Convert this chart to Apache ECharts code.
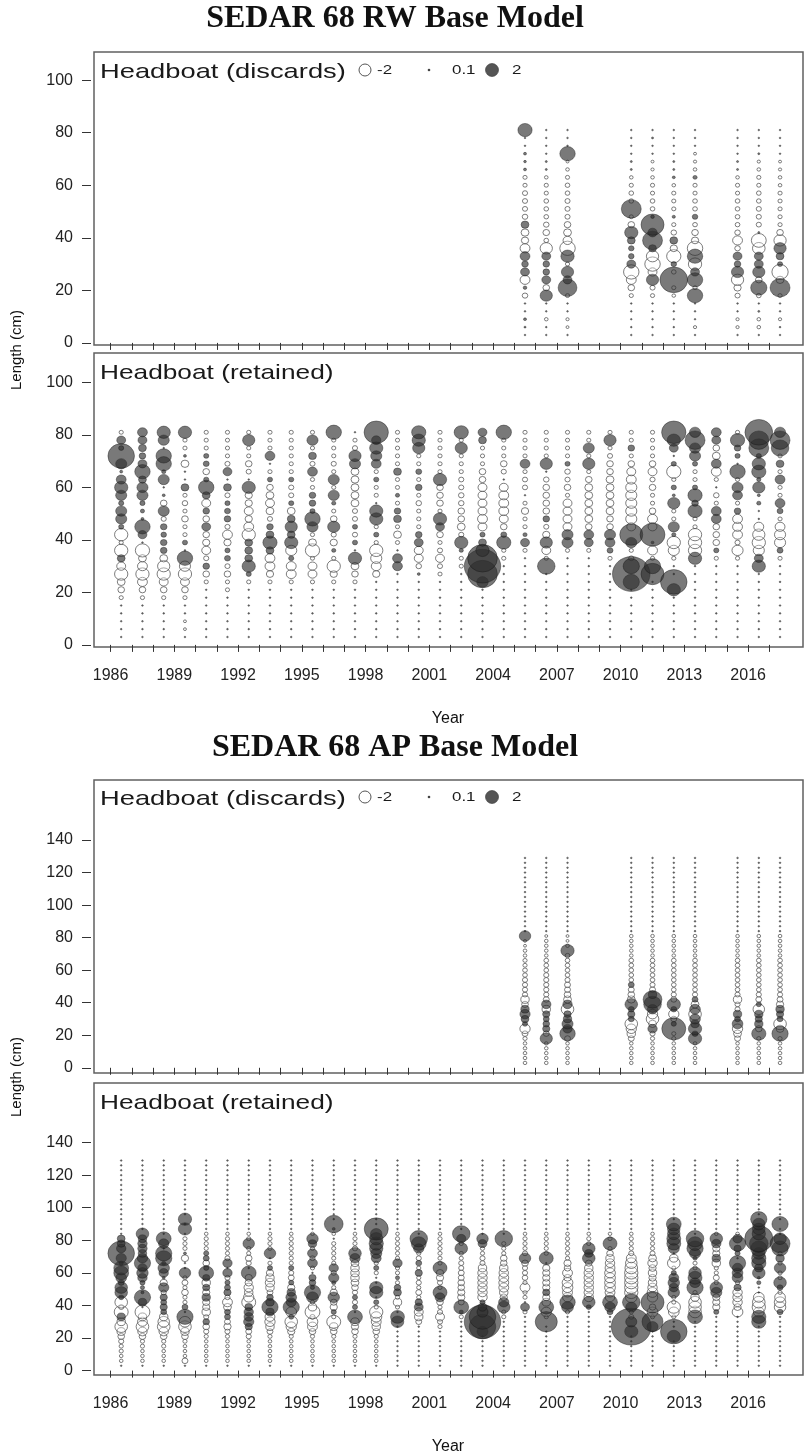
<!DOCTYPE html>
<html>
<head>
<meta charset="utf-8">
<script src="https://cdn.jsdelivr.net/npm/echarts@6/dist/echarts.min.js"></script>
<style>
html, body { margin: 0; background: #fff; }
#chart { width: 805px; height: 1456px; }
</style>
</head>
<body>
<div id="chart"></div>
<script>
// length bins (cm)
const RW_BINS = [3,6,9,12,15,18,21,24,27,30,33,36,39,42,45,48,51,54,57,60,63,66,69,72,75,78,81];
const AP_BINS = [3,6,9,12,15,18,21,24,27,30,33,36,39,42,45,48,51,54,57,60,63,66,69,72,75,78,81,
  84,87,90,93,96,99,102,105,108,111,114,117,120,123,126,129];
const YEARS = [1986,1987,1988,1989,1990,1991,1992,1993,1994,1995,1996,1997,1998,1999,2000,2001,
  2002,2003,2004,2005,2006,2007,2008,2009,2010,2011,2012,2013,2014,2015,2016,2017];
const DISCARD_YEARS = [2005,2006,2007,2010,2011,2012,2013,2015,2016,2017];
const X_LABELS = [1986,1989,1992,1995,1998,2001,2004,2007,2010,2013,2016];
const RW_Y_TICKS = [0,20,40,60,80,100];
const AP_Y_TICKS = [0,20,40,60,80,100,120,140];

// residuals, one row per year, bins from smallest to largest
const rwDiscards = [
  [0,0.05,0.1,0,0,-0.35,0.15,-1.1,0.9,0.5,1.1,-1.1,-0.6,-0.7,0.7,-0.35,-0.3,-0.3,-0.3,-0.2,-0.2,0.1,0.08,0.1,0,0,2.3],
  [0,0,-0.15,0,0,1.7,-0.5,0.9,0.5,0.5,0.9,-1.7,-0.25,-0.5,-0.35,-0.25,-0.25,-0.25,-0.2,-0.2,-0.15,0.05,0.05,0,0,0,0],
  [0,-0.1,-0.12,0,0,-0.2,4,0.9,1.7,-0.2,2,-2.7,-0.9,-0.7,-0.5,-0.3,-0.3,-0.3,-0.25,-0.25,-0.2,-0.15,-0.1,2.7,0,0,0],
  [0,0,0,0,0,-0.2,-0.5,-1.1,-2.7,0.9,0.35,0.35,0.7,2,-0.5,-0.2,4.5,-0.25,-0.25,-0.2,-0.15,0.05,0.05,0,0,0,0],
  [0,0,0,0,0,-0.2,-0.3,1.7,-0.9,-2.7,-1.7,0.7,4.5,1,6,0.15,-0.25,-0.25,-0.2,-0.2,-0.15,-0.12,-0.1,0,0,0.05,0],
  [0,0,0,0,0,-0.15,-0.2,8.7,-0.25,0.35,-2.3,-0.6,0.7,-0.35,-0.2,0.12,-0.2,-0.2,-0.2,-0.15,0.1,0.05,0.05,0,0,0,0],
  [0,-0.12,0,0,0,2.7,-0.2,2.7,0.9,-2,2.7,-2.7,-0.6,-0.5,-0.25,0.35,-0.25,-0.25,-0.2,-0.2,0.2,-0.15,-0.12,-0.1,0,0,0],
  [0,-0.12,-0.12,0,0,-0.3,-0.6,-1.7,1.7,0.5,0.9,-0.35,-1.1,-0.35,-0.25,-0.25,-0.25,-0.25,-0.2,-0.2,-0.15,0.05,0.05,0,0,0,0],
  [0,-0.15,-0.15,0.05,0,-0.25,3,-0.5,1.7,0.9,0.9,-1.8,-2.5,0.05,-0.3,-0.3,-0.3,-0.25,-0.25,-0.2,-0.2,-0.15,-0.12,0.05,0,0,0],
  [0,0,-0.12,0,0,-0.2,4.5,-0.7,-3,0.3,0.7,1.7,-1.7,-0.5,-0.2,-0.2,-0.2,-0.2,-0.2,-0.15,-0.15,-0.12,-0.1,0,0,0,0]
];

const rwRetained = [
  [0,0,0,0,0,-0.2,-0.5,-0.7,-2,-0.9,0.7,-2,-0.2,-2,0.3,1.4,1.4,0.3,1.4,2,1.1,0.1,1.4,8,0.3,0.9,-0.2],
  [0,0,0,0,0,-0.2,-0.5,-1.1,-2,-1.1,-0.7,-2.3,0,0.9,2.7,0.1,0.2,0.3,1.4,1.4,0.7,2.7,0.9,0.5,0.7,0.9,1.1],
  [0,0,0,0,0,-0.2,-0.5,-0.9,-2,-1.7,-0.7,0.5,0.5,0.35,0.5,-0.3,1.4,-0.5,0.1,0,1.4,0.2,2.7,2.7,0,1.4,2],
  [0,-0.1,-0.1,0,0,-0.2,-0.5,-0.9,-2,-1.4,2.7,0,0.3,-0.2,-0.2,-0.5,-0.2,-0.35,-0.2,0.7,0,0,-0.7,0.1,-0.2,-0.2,2],
  [0,0,0,0,0,0,0,-0.2,-0.5,0.5,-0.3,-0.9,-0.6,-0.5,0.9,-0.5,0.5,-0.9,0.7,2.7,0.3,-0.5,0.4,0.3,-0.2,-0.2,-0.2],
  [0,0,0,0,0,0,-0.2,-0.2,-0.5,-0.3,0.4,0.3,-0.6,-1.1,-0.3,0.5,0.4,0.3,-0.3,0.7,0,0.9,-0.3,-0.2,-0.2,-0.2,-0.2],
  [0,0,0,0,0,0,0,-0.2,0.3,2,0.7,0.7,0.7,-2,-1.1,-0.6,-0.9,-0.6,-0.6,2,0,-0.3,-0.5,-0.2,-0.2,1.7,-0.2],
  [0,0,0,0,0,0,0,-0.2,-0.6,-1.1,-1.1,0.7,2.3,0.7,0.5,-0.3,-0.7,-0.9,-0.7,-0.5,0.3,-0.2,0,1.1,-0.2,-0.2,-0.2],
  [0,0,0,0,0,0,0,-0.2,-1.1,-1.1,0.3,-1.4,2,0.7,1.7,0.7,-0.7,0.3,-0.3,-0.3,0.3,-0.2,-0.2,-0.2,-0.2,-0.2,-0.2],
  [0,0,0,0,0,0,0,-0.2,-0.9,-0.9,-0.2,-2.3,-0.7,-0.2,1.4,2.7,0.3,0.5,0.5,-0.2,-0.2,1.1,-0.3,0.7,-0.2,1.4,-0.2],
  [0,0,0,0,0,0,0,-0.2,-0.6,-2,-0.2,0.2,-0.6,-0.3,1.7,-0.5,-0.2,0.2,1.4,-0.2,1.4,-0.2,-0.3,-0.2,-0.2,-0.2,2.7],
  [0,0,0,0,0,0,0,-0.2,-0.5,-0.7,2,0,0.3,-0.3,0.3,-0.3,-0.3,-0.7,-0.7,-0.7,-0.7,-0.7,1.4,1.7,-0.3,-0.2,0],
  [0,0,0,0,0,0,0,0,-0.6,-1.1,-1.4,-2,-0.2,0.3,-0.2,2,2,0,-0.2,-0.2,0.3,-0.2,1.1,1.4,2,1,6.7],
  [0,0,0,0,0,0,0,0,0,1.1,1.1,0,-0.2,-0.7,-0.2,0.7,0.5,-0.2,0.2,-0.2,-0.2,0.7,-0.2,-0.2,-0.2,-0.2,-0.2],
  [0,0,0,0,0,0,0,0,0.1,-0.35,-0.9,-0.9,0.9,0.5,-0.2,-0.2,-0.2,-0.35,-0.2,0.5,-0.2,0.4,-0.2,-0.2,1.7,2,2.3],
  [0,0,0,0,0,0,0,0,-0.2,-0.3,-0.9,-0.3,-0.2,-0.5,0.9,2,-0.2,-0.5,-0.5,-0.5,2,-0.2,-0.2,-0.2,-0.2,-0.2,-0.2],
  [0,0,0,0,0,0,0,0,0,-0.2,-0.2,0.2,2,-0.3,-0.7,-0.5,-0.5,-0.35,-0.35,-0.3,-0.3,-0.2,-0.2,-0.2,1.7,-0.2,2.3],
  [0,0,0,0,0,0,0,1.5,10,15,10,2,0.7,0.3,-0.9,-1.1,-0.9,-0.9,-0.9,-0.9,-0.5,-0.5,-0.2,-0.2,-0.2,0.7,0.9],
  [0,0,0,0,0,0,0,0,0,0,-0.2,-0.2,2.3,0.4,-0.5,-0.9,-1.1,-1.1,-1.1,-0.9,0,-0.3,-0.5,-0.2,-0.2,-0.2,2.7],
  [0,0,0,0,0,0,0,0,0,0,0,-0.2,0.9,0.2,-0.2,-0.2,-0.6,-0.2,0,-0.3,-0.3,-0.2,1.1,-0.2,-0.2,-0.2,-0.2],
  [0,0,0,0,0,0,0,0,0,3.5,-0.2,-0.9,1.7,-0.6,-0.3,0.5,-0.5,-0.5,-0.5,-0.5,-0.35,0,1.7,-0.2,-0.2,-0.2,-0.2],
  [0,0,0,0,0,0,0,0,0,0,0,-0.2,1.4,1.4,-0.9,-0.9,-0.9,-0.9,-0.2,-0.5,-0.3,-0.35,0.3,-0.2,-0.2,-0.2,-0.2],
  [0,0,0,0,0,0,0,0,0,0,0,-0.2,0.9,1.1,-0.5,-0.7,-0.7,-0.7,-0.7,-0.7,-0.5,-0.2,1.7,-0.2,1.4,-0.2,-0.2],
  [0,0,0,0,0,0,0,0,0,0,-0.2,0.4,1.1,1.4,-0.5,-0.5,-0.7,-0.7,-0.7,-0.7,-0.7,-0.5,-0.5,-0.3,-0.2,1.7,-0.2],
  [0,0,0,0,0,0,0,3,16,3,-0.3,-0.2,1.4,6,-0.9,-1.4,-1.4,-1.4,-1.4,-1.4,-1.1,-0.9,-0.5,-0.2,0.5,-0.2,-0.2],
  [0,0,0,0,0,0,0,0,6,3,-0.2,-1.1,0.1,7,-0.9,-1.1,-0.5,-0.2,-0.2,-0.5,-0.3,-0.9,-0.5,-0.2,-0.2,-0.2,-0.2],
  [0,0,0,0,0,0,2,8,0,0,-0.2,-1.4,-2,0.2,1.4,-0.2,-0.2,1.7,0.1,0.3,-0.2,-2.3,0.3,0,0.9,2,6.7],
  [0,0,0,0,0,0,0,0,0,0,2,-2,-2,-2,-0.2,-0.2,2.3,0.5,2.3,0.3,-0.2,-0.2,0.3,1.4,1.4,4.5,1.4],
  [0,0,0,0,0,0,0,0,0,0,-0.2,0.3,-0.5,-0.5,-0.5,1.1,1.1,-0.2,-0.35,0,-0.2,-1.1,1.1,-0.7,-0.5,0.9,1.1],
  [0,0,0,0,0,0,0,0,0,0,-0.2,-1.4,-0.3,-1.1,-1.1,-1.1,0.5,-0.2,1.1,1.4,-0.2,2.7,0,0.3,0.5,2.3,-0.2],
  [0,0,0,0,0,0,0,0,0,2,0.9,-1.4,-2,-1.7,-1.1,0,0,0.2,0.1,1.7,0.2,2.3,2,0.3,4.5,4.5,8.7],
  [0,0,0,0,0,0,0,0,0,0,-0.2,0.4,-1.4,-1.4,-1.1,-0.2,0.4,1.1,-0.2,-0.2,1.1,-0.2,0.7,-0.2,3.5,4.5,1.4]
];

const apDiscards = [
  [-0.15,-0.15,-0.15,-0.15,-0.15,-0.2,-0.4,-1.2,0.3,0.7,1.2,0.8,-0.5,-0.8,-0.3,-0.3,-0.3,-0.3,-0.25,-0.25,-0.2,-0.2,-0.15,-0.15,-0.1,-0.1,1.5,0,0,0,0,0,0,0,0,0,0,0,0,0,0,0,0],
  [-0.15,-0.15,-0.15,-0.15,-0.15,1.7,-0.4,0.6,0.5,0.4,0.6,-0.8,1,-0.4,-0.3,-0.3,-0.3,-0.3,-0.3,-0.25,-0.25,-0.25,-0.15,-0.15,-0.15,-0.15,-0.1,0,0,0,0,0,0,0,0,0,0,0,0,0,0,0,0],
  [-0.15,-0.15,-0.15,-0.15,-0.15,-0.4,2.7,1,1.4,0.8,0.6,-1.8,1,-0.7,-0.5,-0.4,-0.4,-0.3,-0.25,-0.25,-0.25,-0.25,-0.25,2,-0.15,-0.1,-0.1,0,0,0,0,0,0,0,0,0,0,0,0,0,0,0,0],
  [-0.15,-0.15,-0.15,-0.15,-0.15,-0.4,-0.8,-1.2,-1.8,0.4,0.6,0.4,1.8,-0.7,-0.5,-0.4,0.4,-0.25,-0.25,-0.25,-0.25,-0.25,-0.15,-0.15,-0.15,-0.15,-0.15,0,0,0,0,0,0,0,0,0,0,0,0,0,0,0,0],
  [-0.15,-0.15,-0.15,-0.15,-0.15,-0.2,-0.3,1,-0.7,-1.8,-1.2,1.2,3.5,4,0.8,-0.4,-0.3,-0.25,-0.25,-0.25,-0.25,-0.25,-0.15,-0.15,-0.15,-0.15,-0.15,0,0,0,0,0,0,0,0,0,0,0,0,0,0,0,0],
  [-0.15,-0.15,-0.15,-0.15,-0.15,-0.2,-0.2,6.5,0.3,-0.4,-1.2,0.4,2,-0.4,-0.3,-0.25,-0.25,-0.25,-0.25,-0.25,-0.25,-0.25,-0.15,-0.15,-0.15,-0.15,-0.15,0,0,0,0,0,0,0,0,0,0,0,0,0,0,0,0],
  [-0.15,-0.15,-0.15,-0.15,-0.15,2,0.4,2,0.8,1.3,-1.8,1.3,-0.7,0.4,-0.3,-0.25,-0.25,-0.25,-0.25,-0.25,-0.25,-0.25,-0.15,-0.15,-0.15,-0.15,-0.15,0,0,0,0,0,0,0,0,0,0,0,0,0,0,0,0],
  [-0.15,-0.15,-0.15,-0.15,-0.15,-0.4,-0.7,-1.2,1.3,0.4,0.8,-0.3,-0.3,-0.8,-0.3,-0.25,-0.25,-0.25,-0.25,-0.25,-0.25,-0.25,-0.15,-0.15,-0.15,-0.15,-0.15,0,0,0,0,0,0,0,0,0,0,0,0,0,0,0,0],
  [-0.15,-0.15,-0.15,-0.15,-0.15,-0.2,2.3,-0.5,0.8,0.6,0.8,-1.5,0.3,-0.4,-0.3,-0.25,-0.25,-0.25,-0.25,-0.25,-0.25,-0.25,-0.15,-0.15,-0.15,-0.15,-0.15,0,0,0,0,0,0,0,0,0,0,0,0,0,0,0,0],
  [-0.15,-0.15,-0.15,-0.15,-0.15,-0.2,3,-0.7,-1.8,0.4,0.6,0.8,-0.6,-0.4,-0.3,-0.25,-0.25,-0.25,-0.25,-0.25,-0.25,-0.25,-0.15,-0.15,-0.15,-0.15,-0.15,0,0,0,0,0,0,0,0,0,0,0,0,0,0,0,0]
];

const apRetained = [
  [0,-0.15,-0.15,-0.2,-0.2,-0.3,-0.5,-0.8,-1.8,-0.8,0.8,-2.2,-0.3,-1.8,0.3,1.8,1.8,0.4,1.3,2.5,2.5,0.2,1.2,8,1,0.7,0.7,0,0,0,0,0,0,0,0,0,0,0,0,0,0,0,0],
  [0,-0.15,-0.15,-0.15,-0.2,-0.2,-0.5,-1,-1.8,-1.1,-0.8,-2.5,0,0.8,3,0.1,0.2,0.3,1,1.5,1,3,1.2,0.8,1,1,0.8,1.8,0,0,0,0,0,0,0,0,0,0,0,0,0,0,0],
  [0,-0.15,-0.15,-0.15,-0.2,-0.2,-0.5,-1,-1.8,-1.5,-0.8,0.4,0.6,0.4,0.6,-0.3,1.2,-0.6,0.1,1,1.5,0.2,3,3,0,1.2,2.5,0,0,0,0,0,0,0,0,0,0,0,0,0,0,0,0],
  [0,-0.4,-0.15,-0.15,-0.15,-0.2,-0.5,-0.8,-1.8,-1.5,3,0,0.4,-0.2,-0.2,-0.5,-0.2,-0.4,-0.2,1.5,0,0,-0.6,0.1,-0.2,-0.2,-0.2,0,2,0,2,0,0,0,0,0,0,0,0,0,0,0,0],
  [0,-0.15,-0.15,-0.15,-0.15,-0.15,-0.2,-0.3,-0.5,0.5,-0.3,-0.8,-0.6,-0.6,0.8,-0.6,0.6,-0.8,0.6,2.5,0.3,-0.5,0.4,0.3,-0.2,-0.2,-0.2,-0.15,0,0,0,0,0,0,0,0,0,0,0,0,0,0,0],
  [0,-0.15,-0.15,-0.15,-0.15,-0.15,-0.2,-0.3,-0.6,-0.4,0.4,0.4,-0.7,-1.1,-0.3,0.6,0.4,0.3,-0.3,1,0,1,-0.3,-0.2,-0.2,-0.2,-0.2,-0.15,0,0,0,0,0,0,0,0,0,0,0,0,0,0,0],
  [0,-0.15,-0.15,-0.15,-0.15,-0.15,-0.3,-0.4,0.6,1.2,1,1,0.7,-2.2,-1.2,-0.8,-1,-0.6,-0.6,2.5,0,-0.3,-0.5,-0.2,-0.2,1.5,-0.2,-0.15,0,0,0,0,0,0,0,0,0,0,0,0,0,0,0],
  [0,-0.15,-0.15,-0.15,-0.15,-0.15,-0.2,-0.4,-0.8,-1.2,-1.1,0.8,3,0.8,0.5,-0.4,-0.8,-1,-0.8,-0.6,0.3,-0.2,0,1.5,-0.2,-0.2,-0.2,-0.15,0,0,0,0,0,0,0,0,0,0,0,0,0,0,0],
  [0,-0.15,-0.15,-0.15,-0.15,-0.15,-0.2,-0.6,-1.2,-1.8,0.3,-1.3,3,1.1,1.3,0.8,-0.6,0.3,-0.4,-0.3,0.3,-0.2,-0.2,-0.2,-0.2,-0.2,-0.2,-0.15,0,0,0,0,0,0,0,0,0,0,0,0,0,0,0],
  [0,-0.15,-0.15,-0.15,-0.15,-0.15,-0.2,-0.5,-1.1,-1.3,-0.3,-2.5,-0.8,-0.2,1.6,3,0.2,0.5,0.6,0,-0.2,1.1,-0.3,1.1,-0.2,0.8,1.5,-0.15,0,0,0,0,0,0,0,0,0,0,0,0,0,0,0],
  [0,-0.15,-0.15,-0.15,-0.15,-0.15,-0.2,-0.5,-0.8,-2.2,-0.2,0.3,-0.6,-0.5,1.5,-0.6,-0.2,0.2,1.2,-0.3,1,-0.2,-0.2,-0.2,-0.2,-0.2,0,-0.15,0.1,4,0,0,0,0,0,0,0,0,0,0,0,0,0],
  [0,-0.15,-0.15,-0.15,-0.15,-0.15,-0.2,-0.5,-0.6,-0.8,2.5,0,0.3,-0.3,0.3,-0.3,-0.5,-0.7,-0.8,-0.8,-0.8,-0.7,1.2,1.8,-0.3,-0.2,-0.2,-0.15,0,0,0,0,0,0,0,0,0,0,0,0,0,0,0],
  [0,-0.15,-0.15,-0.15,-0.15,-0.15,-0.2,-0.5,-0.8,-1.1,-1.4,-2,-0.2,0.3,0,2,2,0,0,-0.2,0.3,-0.2,1.1,1.4,2,2.3,2,1.5,6.5,0,0,0,0,0,0,0,0,0,0,0,0,0,0],
  [0,0,0,0,0,0,0,0,0,1.8,2.2,0,-0.2,-0.8,-0.2,0.7,0.5,-0.2,0.2,-0.2,-0.2,1,-0.2,-0.2,-0.2,-0.2,-0.2,-0.15,0,0,0,0,0,0,0,0,0,0,0,0,0,0,0],
  [0,0,0,0,0,0,0,0,0,-0.4,-0.8,-0.9,0.9,0.6,-0.2,-0.4,-0.2,-0.3,-0.2,0.6,-0.2,0.4,-0.3,-0.2,1.2,2.5,3.5,0,0,0,0,0,0,0,0,0,0,0,0,0,0,0,0],
  [0,0,0,0,0,0,0,0,-0.2,-0.3,-0.9,-0.3,-0.2,-0.5,1.1,2.2,-0.2,-0.3,-0.6,-0.6,2.2,-0.2,-0.2,-0.2,-0.2,-0.2,-0.2,-0.15,0,0,0,0,0,0,0,0,0,0,0,0,0,0,0],
  [0,0,0,0,0,0,0,0,0,0,-0.2,0.2,2.5,-0.4,-0.6,-0.6,-0.5,-0.5,-0.4,-0.4,-0.3,-0.3,-0.2,-0.2,1.8,-0.2,1,3.5,0,0,0,0,0,0,0,0,0,0,0,0,0,0,0],
  [0,0,0,0,0,0,0,1.4,8,15,8,1.4,0.9,0.3,-1,-1,-1,-1,-1,-1,-0.8,-0.3,-0.3,-0.2,-0.2,0.9,1.5,0,0,0,0,0,0,0,0,0,0,0,0,0,0,0,0],
  [0,0,0,0,0,0,0,0,0,0,-0.2,-0.2,1.8,1.2,-0.6,-0.8,-1.1,-1.1,-1.1,-1,-0.8,-0.5,-0.5,-0.2,-0.2,-0.2,3.5,0,0,0,0,0,0,0,0,0,0,0,0,0,0,0,0],
  [0,0,0,0,0,0,0,0,0,0,0,-0.2,0.9,0,-0.2,-0.2,-1.1,-0.2,-0.35,-0.3,-0.3,-0.5,1.5,-0.3,-0.2,-0.2,-0.2,-0.15,0,0,0,0,0,0,0,0,0,0,0,0,0,0,0],
  [0,0,0,0,0,0,0,0,0,5.5,-0.2,-1.2,2.5,-0.8,-0.6,0.6,-0.6,-0.6,-0.6,-0.6,-0.6,0,2.2,-0.2,-0.2,-0.2,-0.2,-0.15,0,0,0,0,0,0,0,0,0,0,0,0,0,0,0],
  [0,0,0,0,0,0,0,0,0,0,0,-0.2,1.6,2.7,-1.1,-1.1,-1.3,-1.3,-0.6,-1.1,-0.5,-0.6,-0.2,-0.2,-0.2,-0.2,-0.2,-0.15,0,0,0,0,0,0,0,0,0,0,0,0,0,0,0],
  [0,0,0,0,0,0,0,0,0,0,0,0,0.3,1.8,-1,-1,-1,-1,-1,-1,-0.8,-0.5,1.8,0.8,1.8,-0.2,-0.2,-0.15,0,0,0,0,0,0,0,0,0,0,0,0,0,0,0],
  [0,0,0,0,0,0,0,0,0,0,0,0.4,1.3,2.5,-1,-1.1,-1.3,-1.3,-1.3,-1.3,-1.1,-1,-0.8,-0.5,-0.2,2.2,-0.2,-0.15,0,0,0,0,0,0,0,0,0,0,0,0,0,0,0],
  [0,0,0,0,0,0,0,2,18,1.4,-0.3,-0.2,1.4,3.5,-1.5,-2,-2,-2,-2,-2,-1.8,-1.5,-1.1,-0.3,-0.2,-0.2,-0.2,-0.15,0,0,0,0,0,0,0,0,0,0,0,0,0,0,0],
  [0,0,0,0,0,0,0,0,1.4,5,-0.2,-1.3,-0.5,6,-1.2,-1.3,-1,-0.8,-0.6,-0.8,-0.6,-1,-0.7,-0.3,-0.2,-0.2,-0.2,-0.15,0,0,0,0,0,0,0,0,0,0,0,0,0,0,0],
  [0,0,0,0,0,0,2,8,0,0,-0.2,-1.3,-2,-0.2,-0.2,1.5,1,1.5,1.1,0.3,-0.2,-1.8,-0.8,0,1.4,2.2,2.2,1.8,1.8,2.5,0,0,0,0,0,0,0,0,0,0,0,0,0],
  [0,0,0,0,0,0,0,0,0,0,2.5,-1.8,-1.8,-1.8,-0.8,-0.2,3,1.3,2.2,1.8,-0.2,-0.2,0.2,1.4,3,2.5,3.5,0,0,0,0,0,0,0,0,0,0,0,0,0,0,0,0],
  [0,0,0,0,0,0,0,0,0,0,0,0.3,-0.6,-0.6,-0.6,1.4,1.8,-0.2,-0.4,-0.2,-0.2,-0.8,0.8,-0.6,-0.6,1,1.8,-0.15,0,0,0,0,0,0,0,0,0,0,0,0,0,0,0],
  [0,0,0,0,0,0,0,0,0,0,0,-1.3,-0.6,-1,-1,-1,0.6,-0.2,1.3,1.3,1.2,3,0,0.3,0.6,3,1,-0.15,0,0,0,0,0,0,0,0,0,0,0,0,0,0,0],
  [0,0,0,0,0,0,0,0,0,2.3,2.3,-1.3,-2,-1.8,-1.3,0,0,0.2,0.1,1.8,0.8,2.3,2.3,1.8,3,4,9,2,1.8,1.8,3,0,0,0,0,0,0,0,0,0,0,0,0],
  [0,0,0,0,0,0,0,0,0,0,0,0.4,-1.5,-1.5,-1.3,-0.2,0.4,1.8,-0.2,-0.2,1.5,-0.2,0.8,-0.2,3,4.5,1.8,0,0,3,0,0,0,0,0,0,0,0,0,0,0,0,0]
];

const FONT = '"Liberation Sans", Arial, sans-serif';
const SERIF = '"Liberation Serif", "Times New Roman", serif';
const X_MIN = 1985.22;
const X_MAX = 2018.58;

const chart = echarts.init(document.getElementById('chart'));

// bubble area follows |residual|; drawn a touch wider than tall like the original
function bubbleSize(v) {
  const w = Math.max(1.7, 9.4 * Math.sqrt(Math.abs(v[2])));
  return [w, w / 1.08];
}

const openStyle = { color: 'rgba(255,255,255,0.4)', borderColor: '#4a4a4a', borderWidth: 0.9 };
const fillStyle = { color: 'rgba(45,45,45,0.8)', borderColor: 'rgba(20,20,20,0.85)', borderWidth: 0.6 };

function panelSeries(idx, years, bins, rows) {
  const pts = [];
  years.forEach((yr, i) => {
    rows[i].forEach((r, j) => pts.push([yr + 0.5, bins[j], r])); // plotted at mid-year
  });
  return [
    { type: 'scatter', xAxisIndex: idx, yAxisIndex: idx, data: pts.filter(p => p[2] < 0),
      symbolSize: bubbleSize, itemStyle: openStyle, silent: true },
    { type: 'scatter', xAxisIndex: idx, yAxisIndex: idx, data: pts.filter(p => p[2] >= 0),
      symbolSize: bubbleSize, itemStyle: fillStyle, silent: true }
  ];
}

const grids = [
  { left: 94, top: 52, width: 709, height: 293 },
  { left: 94, top: 353, width: 709, height: 294 },
  { left: 94, top: 780, width: 709, height: 293 },
  { left: 94, top: 1083, width: 709, height: 292 }
].map(g => Object.assign(g, { show: true, borderColor: '#606060', borderWidth: 1.5, backgroundColor: 'transparent' }));

function xAxisFor(i, labels) {
  return {
    type: 'value', gridIndex: i, min: X_MIN, max: X_MAX, offset: 3,
    axisLine: { show: false }, splitLine: { show: false },
    axisTick: { show: true, length: 7, customValues: YEARS, lineStyle: { color: '#333', width: 1 } },
    axisLabel: { show: labels, customValues: X_LABELS, formatter: v => String(v), margin: 18,
      fontSize: 16, color: '#222', fontFamily: FONT }
  };
}

function yAxisFor(i, min, max, ticks) {
  return {
    type: 'value', gridIndex: i, min: min, max: max, offset: 3,
    axisLine: { show: false }, splitLine: { show: false },
    axisTick: { show: true, length: 9, customValues: ticks, lineStyle: { color: '#333', width: 1 } },
    axisLabel: { customValues: ticks, margin: 18, fontSize: 16, color: '#222', fontFamily: FONT }
  };
}

function txt(text, x, y, size, opts) {
  return Object.assign({
    type: 'text', x: x, y: y, silent: true,
    style: { text: text, fill: '#1a1a1a', font: size + 'px ' + FONT, textAlign: 'left', textVerticalAlign: 'middle' }
  }, opts || {});
}

function discardKey(y) {
  return [
    { type: 'circle', shape: { cx: 365, cy: y, r: 6 }, style: { fill: '#fff', stroke: '#555', lineWidth: 1 }, silent: true },
    txt('-2', 377, y, 13, { scaleX: 1.3 }),
    { type: 'circle', shape: { cx: 429, cy: y, r: 1.3 }, style: { fill: '#444' }, silent: true },
    txt('0.1', 452, y, 13, { scaleX: 1.3 }),
    { type: 'circle', shape: { cx: 492, cy: y, r: 6.5 }, style: { fill: '#555', stroke: '#333', lineWidth: 0.6 }, silent: true },
    txt('2', 512, y, 13, { scaleX: 1.3 })
  ];
}

function centred(text, x, y, font, rot) {
  return {
    type: 'text', x: x, y: y, rotation: rot || 0, silent: true,
    style: { text: text, fill: '#111', font: font, textAlign: 'center', textVerticalAlign: 'middle' }
  };
}

const graphics = [
  centred('SEDAR 68 RW Base Model', 395, 19, 'bold 32px ' + SERIF),
  centred('SEDAR 68 AP Base Model', 395, 748, 'bold 32px ' + SERIF),
  centred('Year', 448, 719, '16px ' + FONT),
  centred('Year', 448, 1447, '16px ' + FONT),
  centred('Length (cm)', 17, 350, '15px ' + FONT, Math.PI / 2),
  centred('Length (cm)', 17, 1077, '15px ' + FONT, Math.PI / 2),
  txt('Headboat (discards)', 100, 72, 21, { scaleX: 1.3 }),
  txt('Headboat (retained)', 100, 373, 21, { scaleX: 1.25 }),
  txt('Headboat (discards)', 100, 799, 21, { scaleX: 1.3 }),
  txt('Headboat (retained)', 100, 1103, 21, { scaleX: 1.25 })
].concat(discardKey(70), discardKey(797));

const option = {
  animation: false,
  backgroundColor: '#fff',
  grid: grids,
  xAxis: [xAxisFor(0, false), xAxisFor(1, true), xAxisFor(2, false), xAxisFor(3, true)],
  yAxis: [
    yAxisFor(0, -0.8, 110.7, RW_Y_TICKS),
    yAxisFor(1, -0.8, 111.2, RW_Y_TICKS),
    yAxisFor(2, -3.2, 176.9, AP_Y_TICKS),
    yAxisFor(3, -2.7, 176.6, AP_Y_TICKS)
  ],
  series: [].concat(
    panelSeries(0, DISCARD_YEARS, RW_BINS, rwDiscards),
    panelSeries(1, YEARS, RW_BINS, rwRetained),
    panelSeries(2, DISCARD_YEARS, AP_BINS, apDiscards),
    panelSeries(3, YEARS, AP_BINS, apRetained)
  ),
  graphic: graphics
};

chart.setOption(option);
window.onresize = chart.resize;
</script>
</body>
</html>
